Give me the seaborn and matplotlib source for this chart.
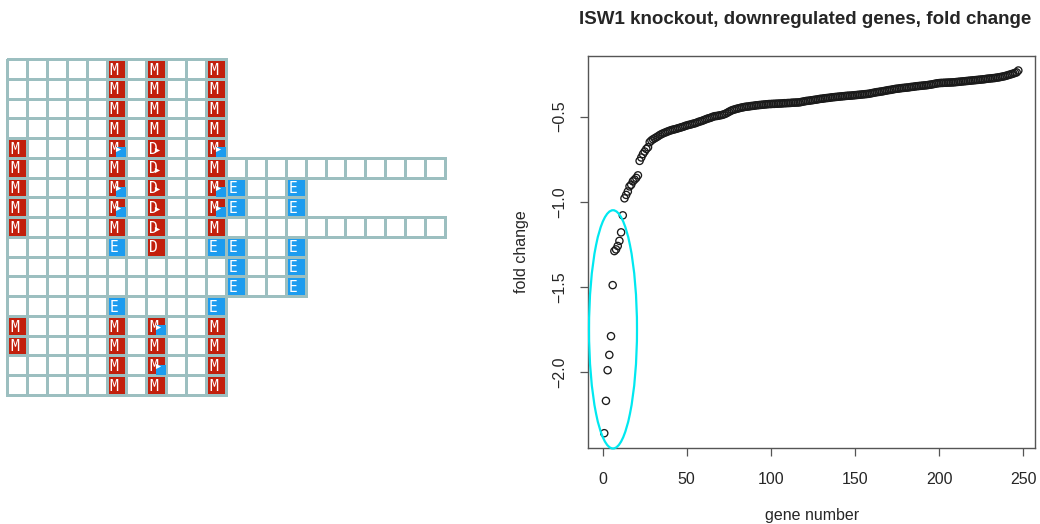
import numpy as np
import pandas as pd
import matplotlib
matplotlib.use('Agg')
import matplotlib.pyplot as plt
from matplotlib.colors import ListedColormap
from matplotlib.patches import Ellipse
import seaborn as sns

sns.set_style('white')
plt.rcParams['font.family'] = ['Liberation Sans', 'DejaVu Sans']

# left panel: one string per row of the grid
# ' ' = no cell, '.' = empty cell, M/D/E = letter cells
# 'm' = M cell with blue corner, 'd' = D cell with pointer
grid_rows = [
    '.....M.M..M',
    '.....M.M..M',
    '.....M.M..M',
    '.....M.M..M',
    'M....m.d..m',
    'M....M.d..M...........',
    'M....m.d..mE..E',
    'M....m.d..mE..E',
    'M....M.d..M...........',
    '.....E.D..EE..E',
    '...........E..E',
    '...........E..E',
    '.....E....E',
    'M....M.m..M',
    'M....M.M..M',
    '.....M.m..M',
    '.....M.M..M',
]
cell_codes = {'.': 0, 'M': 1, 'm': 1, 'D': 1, 'd': 1, 'E': 2}

# right panel: fold change of downregulated genes, sorted
fold_change = [
    -2.36, -2.17, -1.99, -1.90, -1.79, -1.49, -1.29, -1.28, -1.26, -1.23,
    -1.18, -1.08, -0.98, -0.96, -0.94, -0.91, -0.90, -0.88, -0.87, -0.86,
    -0.845, -0.76, -0.74, -0.72, -0.705, -0.69, -0.68, -0.65, -0.64, -0.633,
    -0.627, -0.621, -0.615, -0.608, -0.603, -0.598, -0.594, -0.590, -0.586, -0.582,
    -0.579, -0.576, -0.574, -0.571, -0.568, -0.565, -0.562, -0.559, -0.555, -0.552,
    -0.549, -0.547, -0.544, -0.541, -0.539, -0.535, -0.531, -0.528, -0.525, -0.521,
    -0.517, -0.513, -0.510, -0.507, -0.503, -0.499, -0.497, -0.496, -0.494, -0.492,
    -0.490, -0.487, -0.483, -0.478, -0.472, -0.467, -0.462, -0.459, -0.456, -0.453,
    -0.451, -0.448, -0.446, -0.444, -0.442, -0.441, -0.440, -0.438, -0.437, -0.436,
    -0.434, -0.433, -0.432, -0.431, -0.430, -0.429, -0.428, -0.427, -0.426, -0.426,
    -0.425, -0.425, -0.424, -0.424, -0.423, -0.423, -0.422, -0.421, -0.421, -0.420,
    -0.420, -0.419, -0.418, -0.418, -0.417, -0.417, -0.416, -0.414, -0.412, -0.410,
    -0.408, -0.407, -0.406, -0.404, -0.403, -0.401, -0.400, -0.398, -0.396, -0.395,
    -0.394, -0.392, -0.391, -0.390, -0.389, -0.387, -0.386, -0.385, -0.384, -0.383,
    -0.382, -0.381, -0.380, -0.379, -0.378, -0.377, -0.377, -0.376, -0.375, -0.374,
    -0.373, -0.372, -0.371, -0.370, -0.369, -0.368, -0.367, -0.366, -0.364, -0.362,
    -0.360, -0.358, -0.356, -0.355, -0.353, -0.352, -0.350, -0.348, -0.346, -0.344,
    -0.343, -0.341, -0.339, -0.337, -0.336, -0.335, -0.333, -0.332, -0.331, -0.330,
    -0.329, -0.328, -0.326, -0.325, -0.324, -0.322, -0.321, -0.320, -0.319, -0.318,
    -0.317, -0.316, -0.315, -0.313, -0.312, -0.310, -0.308, -0.306, -0.304, -0.303,
    -0.302, -0.302, -0.301, -0.301, -0.300, -0.300, -0.299, -0.299, -0.298, -0.297,
    -0.296, -0.295, -0.294, -0.293, -0.292, -0.291, -0.290, -0.289, -0.288, -0.287,
    -0.286, -0.285, -0.284, -0.283, -0.282, -0.281, -0.280, -0.278, -0.277, -0.276,
    -0.275, -0.274, -0.273, -0.271, -0.270, -0.268, -0.266, -0.264, -0.262, -0.259,
    -0.256, -0.253, -0.250, -0.247, -0.243, -0.240, -0.229,
]
x_ticks = [0, 50, 100, 150, 200, 250]
y_ticks = [-2.0, -1.5, -1.0, -0.5]
# highlighted group (ellipse in data units)
ring_center = (6.2, -1.75)
ring_width = 28.5
ring_height = 1.40

red = '#c21f0c'
blue = '#1c9cef'
line_col = '#9cbfc0'

fig = plt.figure(figsize=(10.4, 5.24), dpi=100)

# ---------- left: grid of cells ----------
ncol = max(len(r) for r in grid_rows)
mat = np.full((len(grid_rows), ncol), np.nan)
for r, row in enumerate(grid_rows):
    for c, ch in enumerate(row):
        if ch in cell_codes:
            mat[r, c] = cell_codes[ch]
grid_df = pd.DataFrame(mat)

ax1 = fig.add_axes([7/1040, 129/524, 438/1040, 336/524])
sns.heatmap(grid_df, ax=ax1, cmap=ListedColormap(['white', red, blue]),
            vmin=-0.5, vmax=2.5, cbar=False, linewidths=2, linecolor=line_col,
            xticklabels=False, yticklabels=False)
mesh = ax1.collections[0]
present = ~np.isnan(mat.ravel())
mesh.set_edgecolor([line_col if p else (0, 0, 0, 0) for p in present])
mesh.set_clip_on(False)

sq_x, sq_y, tri_x, tri_y = [], [], [], []
for r, row in enumerate(grid_rows):
    for c, ch in enumerate(row):
        if ch in 'MDEmd':
            ax1.text(c + 0.15, r + 0.56, ch.upper(), color='white', ha='left',
                     va='center', family='DejaVu Sans Mono', fontsize=10.5,
                     zorder=3)
        if ch == 'm':
            sq_x.append(c + 0.74); sq_y.append(r + 0.73)
            tri_x.append(c + 0.6); tri_y.append(r + 0.55)
        if ch == 'd':
            tri_x.append(c + 0.55); tri_y.append(r + 0.6)
ax1.scatter(sq_x, sq_y, marker='s', s=52, color=blue, linewidths=0, zorder=4)
ax1.scatter(tri_x, tri_y, marker='>', s=14, color='white', linewidths=0, zorder=5)
ax1.axis('off')

# ---------- right: fold change scatter ----------
gene_number = np.arange(1, len(fold_change) + 1)
ax2 = fig.add_axes([587.7/1040, 76.3/524, 447.2/1040, 391.7/524])
sns.scatterplot(x=gene_number, y=fold_change, ax=ax2, s=27, marker='o',
                linewidth=0.95, legend=False)
pts = ax2.collections[0]
pts.set_facecolor('none')
pts.set_edgecolor('#1a1a1a')

ax2.add_patch(Ellipse(ring_center, ring_width, ring_height, fill=False,
                      edgecolor='#00e8f0', lw=1.6, clip_on=False, zorder=5))

xpad = 0.04 * (gene_number.max() - gene_number.min())
ypad = 0.04 * (max(fold_change) - min(fold_change))
ax2.set_xlim(gene_number.min() - xpad, gene_number.max() + xpad)
ax2.set_ylim(min(fold_change) - ypad, max(fold_change) + ypad)
ax2.set_xticks(x_ticks)
ax2.set_yticks(y_ticks)
for sp in ax2.spines.values():
    sp.set_visible(True)
    sp.set_color('#555555')
    sp.set_linewidth(1.0)
ax2.tick_params(axis='both', direction='out', length=5.5, width=0.9,
                color='#555555', labelsize=11.5, bottom=True, left=True)
ax2.tick_params(axis='x', pad=12)
ax2.tick_params(axis='y', pad=9)
for lab in ax2.get_yticklabels():
    lab.set_rotation(90)
    lab.set_va('center')

ax2.set_xlabel('gene number', fontsize=11.5, va='center')
ax2.set_ylabel('fold change', fontsize=11.5, va='center')
ax2.xaxis.set_label_coords(0.502, -0.172)
ax2.yaxis.set_label_coords(-0.1476, 0.5)

fig.text(805/1040, 1 - 20/524, 'ISW1 knockout, downregulated genes, fold change',
         ha='center', va='center', fontsize=13.5, fontweight='bold')

fig.savefig('out.png', dpi=100)
